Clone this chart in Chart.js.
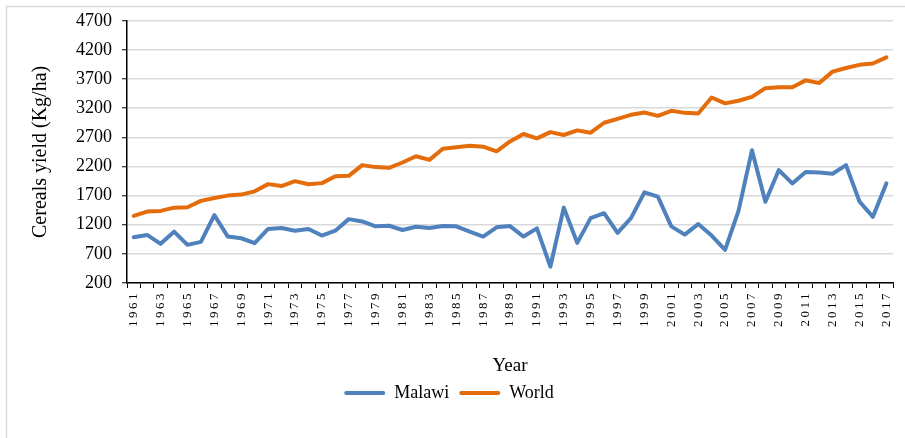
<!DOCTYPE html>
<html>
<head>
<meta charset="utf-8">
<script src="https://cdn.jsdelivr.net/npm/chart.js@4/dist/chart.umd.min.js"></script>
<style>
  html, body { margin: 0; padding: 0; background: #fff; }
  #wrap { position: relative; width: 905px; height: 438px; }
</style>
</head>
<body>
<div id="wrap"><canvas id="c" width="905" height="438"></canvas></div>
<script>
const years = ['1961','1962','1963','1964','1965','1966','1967','1968','1969','1970',
  '1971','1972','1973','1974','1975','1976','1977','1978','1979','1980',
  '1981','1982','1983','1984','1985','1986','1987','1988','1989','1990',
  '1991','1992','1993','1994','1995','1996','1997','1998','1999','2000',
  '2001','2002','2003','2004','2005','2006','2007','2008','2009','2010',
  '2011','2012','2013','2014','2015','2016','2017'];

const malawi = [985,1025,872,1081,855,906,1364,997,968,884,
  1127,1144,1098,1127,1014,1098,1296,1256,1172,1183,
  1110,1166,1144,1177,1172,1081,997,1155,1177,997,
  1138,480,1494,889,1313,1398,1059,1313,1756,1683,
  1172,1030,1211,1014,770,1437,2477,1593,2138,1909,
  2104,2098,2076,2223,1598,1336,1909];

const world = [1352,1426,1437,1493,1499,1610,1660,1700,1717,1773,
  1897,1864,1948,1895,1914,2033,2039,2223,2189,2177,
  2268,2375,2313,2505,2528,2556,2539,2460,2630,2757,
  2683,2790,2740,2819,2779,2950,3018,3086,3126,3069,
  3155,3120,3109,3383,3283,3328,3394,3544,3561,3561,
  3678,3633,3828,3889,3944,3967,4072];

const yMin = 200, yMax = 4700, yStep = 500;
const yTitle = 'Cereals yield (Kg/ha)';
const xTitle = 'Year';

const FONT = "'Liberation Serif', 'Times New Roman', serif";

const framePlugin = {
  id: 'frame',
  beforeDraw(chart) {
    const ctx = chart.ctx;
    ctx.save();
    ctx.fillStyle = '#ffffff';
    ctx.fillRect(0, 0, chart.width, chart.height);
    ctx.strokeStyle = '#d9d9d9';
    ctx.lineWidth = 1.5;
    ctx.beginPath();
    ctx.moveTo(6.5, chart.height);
    ctx.lineTo(6.5, 6.5);
    ctx.lineTo(chart.width, 6.5);
    ctx.stroke();
    ctx.restore();
  },
  afterUpdate(chart) {
    const s = chart.scales.x;
    if (s && !s._lsWrapped) {
      const orig = s.drawLabels;
      s.drawLabels = function(area) {
        const ctx = this.ctx;
        ctx.save();
        ctx.letterSpacing = '2.5px';
        orig.call(this, area);
        ctx.restore();
      };
      s._lsWrapped = true;
    }
  }
};

new Chart(document.getElementById('c'), {
  type: 'line',
  data: {
    labels: years,
    datasets: [
      { label: 'Malawi', data: malawi, borderColor: '#4F81BD', backgroundColor: '#4F81BD',
        borderWidth: 4, pointRadius: 0, tension: 0, borderJoinStyle: 'round', borderCapStyle: 'round' },
      { label: 'World', data: world, borderColor: '#E46C0A', backgroundColor: '#E46C0A',
        borderWidth: 4, pointRadius: 0, tension: 0, borderJoinStyle: 'round', borderCapStyle: 'round' }
    ]
  },
  options: {
    responsive: false,
    animation: false,
    layout: { padding: { left: 0, right: 7, top: 18, bottom: 26 } },
    plugins: {
      tooltip: { enabled: false },
      legend: {
        position: 'bottom',
        labels: {
          font: { family: FONT, size: 18 },
          color: '#000',
          boxWidth: 41,
          boxHeight: 4,
          padding: 10,
          useBorderRadius: true,
          borderRadius: 2,
          generateLabels(chart) {
            const items = Chart.defaults.plugins.legend.labels.generateLabels(chart);
            items.forEach(i => { i.lineWidth = 0; i.fillStyle = i.strokeStyle; });
            return items;
          }
        }
      }
    },
    scales: {
      x: {
        type: 'category',
        offset: true,
        afterFit(scale) { scale.height = 91; },
        grid: { display: true, drawOnChartArea: false, offset: true, tickLength: 5, tickColor: '#000', tickWidth: 1 },
        border: { display: true, color: '#000', width: 1.5 },
        ticks: {
          autoSkip: false,
          minRotation: 90,
          maxRotation: 90,
          padding: 3,
          color: '#000',
          font: { family: FONT, size: 13 },
          callback(value, index) { return index % 2 === 0 ? this.getLabelForValue(value) : ''; }
        },
        title: {
          display: true,
          text: xTitle,
          color: '#000',
          font: { family: FONT, size: 19, lineHeight: 1 },
          padding: { top: 0, bottom: -2 }
        }
      },
      y: {
        min: yMin,
        max: yMax,
        afterFit(scale) { scale.width = 127; },
        grid: { color: '#d9d9d9', lineWidth: 1.5, tickLength: 5, tickColor: '#000', tickWidth: 1 },
        border: { display: true, color: '#000', width: 1.5 },
        ticks: {
          stepSize: yStep,
          padding: 10,
          color: '#000',
          font: { family: FONT, size: 18 },
          callback(value) { return String(value); }
        },
        title: {
          display: true,
          text: yTitle,
          color: '#000',
          font: { family: FONT, size: 20 },
          padding: { top: 29, bottom: 0 }
        }
      }
    }
  },
  plugins: [framePlugin]
});
</script>
</body>
</html>
